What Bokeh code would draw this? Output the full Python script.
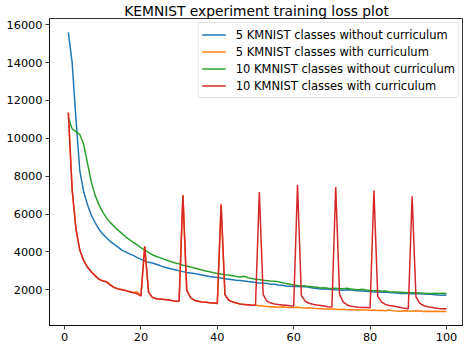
from bokeh.plotting import figure
from bokeh.models import Range1d, FixedTicker
from bokeh.embed import file_html
from bokeh.resources import INLINE

epochs = list(range(1, 101))

blue_5_no_curr = [
    15600, 14000, 11000, 8300, 7200, 6500, 5950, 5550, 5200, 4950,
    4750, 4550, 4400, 4250, 4100, 4000, 3900, 3820, 3700, 3620,
    3520, 3450, 3420, 3350, 3280, 3200, 3150, 3100, 3060, 3000,
    2960, 2920, 2890, 2860, 2820, 2780, 2740, 2700, 2680, 2650,
    2620, 2590, 2560, 2530, 2500, 2490, 2470, 2440, 2410, 2380,
    2360, 2340, 2330, 2300, 2290, 2260, 2240, 2200, 2190, 2180,
    2170, 2160, 2180, 2140, 2100, 2070, 2040, 2050, 2030, 2020,
    2000, 1990, 1980, 2000, 1990, 1960, 1950, 1940, 1930, 1910,
    1890, 1880, 1870, 1880, 1860, 1850, 1830, 1810, 1820, 1800,
    1790, 1800, 1790, 1780, 1770, 1760, 1740, 1720, 1710, 1730,
]

orange_5_curr = [
    11360, 7300, 5200, 4100, 3550, 3200, 2950, 2750, 2560, 2480,
    2430, 2270, 2130, 2060, 2020, 1970, 1910, 1860, 1900, 1690,
    4280, 1880, 1600, 1530, 1510, 1490, 1470, 1430, 1400, 1400,
    7000, 1980, 1580, 1450, 1400, 1360, 1340, 1320, 1300, 1280,
    6500, 1750, 1450, 1360, 1300, 1250, 1230, 1210, 1190, 1180,
    1160, 1140, 1120, 1090, 1100, 1080, 1100, 1080, 1070, 1060,
    1080, 1050, 1040, 1050, 1020, 1010, 1000, 990, 990, 980,
    970, 960, 970, 950, 960, 940, 950, 930, 940, 920,
    930, 910, 920, 900, 930, 900, 880, 870, 900, 880,
    870, 900, 880, 860, 870, 850, 870, 860, 850, 860,
]

green_10_no_curr = [
    11100, 10500, 10350, 10200, 9700, 8700, 7700, 7000, 6500, 6100,
    5800, 5550, 5350, 5150, 4980, 4800, 4650, 4500, 4380, 4230,
    4100, 3980, 3850, 3760, 3700, 3620, 3550, 3480, 3420, 3370,
    3300, 3260, 3200, 3150, 3100, 3050, 2990, 2950, 2900, 2860,
    2830, 2800, 2780, 2740, 2700, 2680, 2720, 2640, 2600, 2560,
    2540, 2500, 2480, 2460, 2450, 2420, 2380, 2330, 2290, 2260,
    2230, 2220, 2200, 2180, 2160, 2130, 2100, 2110, 2080, 2070,
    2080, 2050, 2060, 2080, 2040, 2020, 2000, 2030, 1990, 1970,
    1950, 1960, 1930, 1940, 1900, 1890, 1880, 1870, 1860, 1850,
    1840, 1840, 1830, 1820, 1810, 1800, 1820, 1800, 1820, 1800,
]

red_10_curr = [
    11360, 7300, 5200, 4100, 3550, 3200, 2950, 2750, 2550, 2470,
    2420, 2250, 2120, 2050, 2000, 1960, 1900, 1850, 1790, 1670,
    4300, 1880, 1600, 1530, 1510, 1490, 1470, 1430, 1400, 1400,
    6990, 1980, 1580, 1450, 1400, 1360, 1340, 1320, 1300, 1280,
    6520, 1750, 1450, 1360, 1300, 1250, 1230, 1210, 1190, 1180,
    7170, 1750, 1400, 1300, 1250, 1220, 1200, 1180, 1160, 1150,
    7550, 1700, 1400, 1290, 1240, 1200, 1170, 1140, 1110, 1090,
    7430, 1750, 1350, 1200, 1130, 1100, 1080, 1070, 1060, 1050,
    7250, 1670, 1350, 1230, 1170, 1140, 1100, 1060, 1020, 1000,
    6940, 1630, 1280, 1170, 1110, 1080, 1040, 1010, 1000, 1000,
]

series = [
    ("5 KMNIST classes without curriculum", blue_5_no_curr, "#1f77b4"),
    ("5 KMNIST classes with curriculum", orange_5_curr, "#ff7f0e"),
    ("10 KMNIST classes without curriculum", green_10_no_curr, "#2ca02c"),
    ("10 KMNIST classes with curriculum", red_10_curr, "#d62728"),
]

x_ticks = [0, 20, 40, 60, 80, 100]
y_ticks = [2000, 4000, 6000, 8000, 10000, 12000, 14000, 16000]

FONT = "DejaVu Sans"

p = figure(
    width=463, height=346,
    output_backend="svg", toolbar_location=None,
    title="KEMNIST experiment training loss plot",
    x_range=Range1d(-3.93, 104.45), y_range=Range1d(115, 16330),
    min_border_left=49, min_border_right=0, min_border_top=16, min_border_bottom=21,
)
p.title.align = "center"
p.title.text_font = FONT
p.title.text_font_size = "13.8px"
p.title.text_font_style = "normal"
p.title.text_color = "black"
p.title.standoff = 0

for label, vals, color in series:
    p.line(epochs, vals, line_color=color, line_width=1.5, legend_label=label)

p.xgrid.visible = False
p.ygrid.visible = False
p.outline_line_color = "black"
p.outline_line_width = 0.8

for ax in (p.xaxis[0], p.yaxis[0]):
    ax.axis_line_color = "black"
    ax.axis_line_width = 0.8
    ax.major_tick_line_color = "black"
    ax.major_tick_line_width = 0.8
    ax.major_tick_out = 4
    ax.major_tick_in = 0
    ax.minor_tick_line_color = None
    ax.major_label_text_font = FONT
    ax.major_label_text_font_size = "11.3px"
    ax.major_label_text_color = "black"
    ax.major_label_standoff = 3

p.xaxis.ticker = FixedTicker(ticks=x_ticks)
p.yaxis.ticker = FixedTicker(ticks=y_ticks)

lg = p.legend[0]
lg.location = "top_right"
lg.margin = 4
lg.padding = 3
lg.spacing = 0
lg.glyph_width = 24
lg.glyph_height = 17
lg.label_height = 17
lg.label_standoff = 10
lg.label_text_font = FONT
lg.label_text_font_size = "11.5px"
lg.label_text_color = "black"
lg.border_line_color = "#cccccc"
lg.background_fill_alpha = 0.8

open("out.html", "w").write(file_html(p, INLINE))
